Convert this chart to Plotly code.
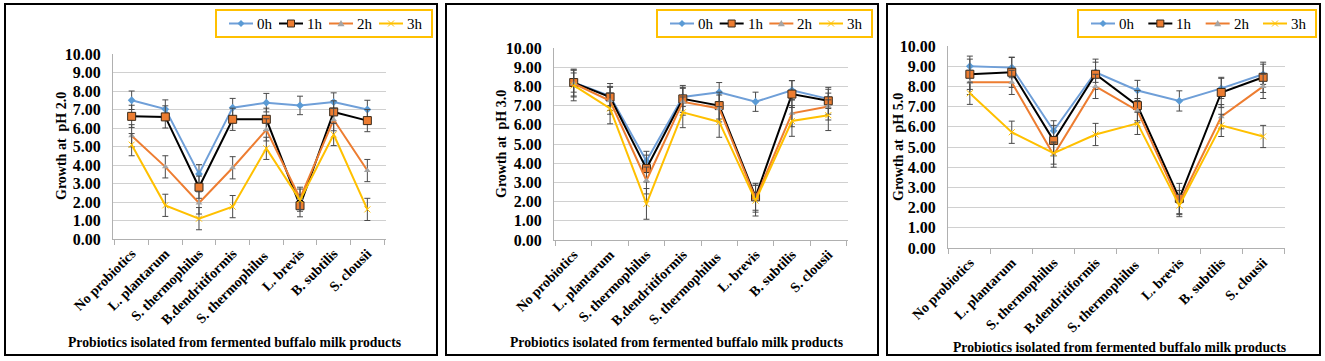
import plotly.graph_objects as go

categories = ["No probiotics", "L. plantarum", "S. thermophilus", "B.dendritiformis",
              "S. thermophilus ", "L. brevis", "B. subtilis", "S. clousii"]
series_names = ["0h", "1h", "2h", "3h"]

# pH 2.0
ph2_0h = [7.50, 7.02, 3.52, 7.10, 7.37, 7.22, 7.40, 7.00]
ph2_1h = [6.63, 6.60, 2.80, 6.47, 6.47, 1.80, 6.87, 6.40]
ph2_2h = [5.58, 3.90, 1.95, 3.85, 5.90, 2.20, 6.45, 3.70]
ph2_3h = [5.10, 1.82, 1.10, 1.75, 4.90, 2.10, 5.65, 1.60]
ph2_err = [0.5, 0.6, 0.6, 0.6]

# pH 3.0
ph3_0h = [8.20, 7.50, 4.12, 7.45, 7.70, 7.20, 7.80, 7.35]
ph3_1h = [8.20, 7.45, 3.72, 7.35, 7.00, 2.25, 7.60, 7.25]
ph3_2h = [8.15, 7.25, 3.10, 7.20, 6.85, 2.15, 6.60, 6.95]
ph3_3h = [8.05, 6.85, 1.88, 6.65, 6.15, 2.05, 6.20, 6.50]
ph3_err = [0.5, 0.7, 0.7, 0.8]

# pH 5.0
ph5_0h = [9.00, 8.93, 5.80, 8.70, 7.80, 7.28, 7.90, 8.60]
ph5_1h = [8.60, 8.70, 5.32, 8.60, 7.05, 2.45, 7.70, 8.45]
ph5_2h = [8.20, 8.20, 4.60, 8.00, 6.80, 2.25, 6.50, 8.00]
ph5_3h = [7.66, 5.73, 4.70, 5.62, 6.17, 2.10, 6.07, 5.52]
ph5_err = [0.5, 0.75, 0.6, 0.55]

y_titles = ["Growth at  pH 2.0", "Growth at  pH 3.0", "Growth at  pH 5.0"]
x_title = "Probiotics isolated from fermented buffalo milk products"

W, H = 1325, 361
FONT = "Liberation Serif"

line_colors = ["#6F9FD8", "#000000", "#ED7D31", "#FFC000"]
marker_colors = ["#5B9BD5", "#ED7D31", "#A5A5A5", "#FFC000"]
marker_styles = [
    dict(symbol="diamond", size=6, color=marker_colors[0]),
    dict(symbol="square", size=8, color=marker_colors[1], line=dict(color="#3a2a1a", width=1)),
    dict(symbol="triangle-up", size=6, color=marker_colors[2]),
    dict(symbol="x-thin", size=6, color=marker_colors[3], line=dict(color=marker_colors[3], width=1)),
]

panels = [
    dict(data=[ph2_0h, ph2_1h, ph2_2h, ph2_3h], err=ph2_err,
         px=(113, 386), py=(54, 239), border=(5, 437), legend=(216, 432),
         ytx=(61, 146), xtx=(235, 342)),
    dict(data=[ph3_0h, ph3_1h, ph3_2h, ph3_3h], err=ph3_err,
         px=(554, 848), py=(48, 240), border=(446, 878), legend=(657, 872),
         ytx=(501, 144), xtx=(676, 342)),
    dict(data=[ph5_0h, ph5_1h, ph5_2h, ph5_3h], err=ph5_err,
         px=(948, 1285), py=(46, 248), border=(887, 1320), legend=(1078, 1316),
         ytx=(898, 147), xtx=(1119, 347)),
]


def fx(px):
    return px / W


def fy(py):
    return 1 - py / H


def legend_box(x0, x1, shapes, annotations):
    """Legend drawn as layout decoration: gold box, line samples, symbols, labels."""
    top, bot = 10, 37
    yc = (top + bot) / 2
    shapes.append(dict(type="rect", xref="paper", yref="paper", x0=fx(x0), x1=fx(x1),
                       y0=fy(bot), y1=fy(top), line=dict(color="#FFC000", width=2),
                       fillcolor="white", layer="above"))
    seg, gap, tw = 24, 2, 14
    pitch = ((x1 - x0) - 26 - seg - gap - tw) / 3
    for k in range(4):
        lx = x0 + 13 + k * pitch
        mx = lx + seg / 2
        shapes.append(dict(type="line", xref="paper", yref="paper", x0=fx(lx), x1=fx(lx + seg),
                           y0=fy(yc), y1=fy(yc), line=dict(color=line_colors[k], width=2),
                           layer="above"))
        s = 3.5
        if k == 0:
            path = f"M{fx(mx)},{fy(yc - s)} L{fx(mx + s)},{fy(yc)} L{fx(mx)},{fy(yc + s)} L{fx(mx - s)},{fy(yc)} Z"
            shapes.append(dict(type="path", xref="paper", yref="paper", path=path,
                               fillcolor=marker_colors[0], line=dict(width=0), layer="above"))
        elif k == 1:
            shapes.append(dict(type="rect", xref="paper", yref="paper",
                               x0=fx(mx - s), x1=fx(mx + s), y0=fy(yc + s), y1=fy(yc - s),
                               fillcolor=marker_colors[1], line=dict(color="#3a2a1a", width=1),
                               layer="above"))
        elif k == 2:
            path = f"M{fx(mx)},{fy(yc - s)} L{fx(mx + s)},{fy(yc + s * 0.8)} L{fx(mx - s)},{fy(yc + s * 0.8)} Z"
            shapes.append(dict(type="path", xref="paper", yref="paper", path=path,
                               fillcolor=marker_colors[2], line=dict(width=0), layer="above"))
        else:
            for d in (1, -1):
                shapes.append(dict(type="line", xref="paper", yref="paper",
                                   x0=fx(mx - 3), x1=fx(mx + 3), y0=fy(yc - 3 * d), y1=fy(yc + 3 * d),
                                   line=dict(color=marker_colors[3], width=1), layer="above"))
        annotations.append(dict(text=series_names[k], xref="paper", yref="paper",
                                x=fx(lx + seg + gap), y=fy(yc + 0.5), xanchor="left", yanchor="middle",
                                showarrow=False,
                                font=dict(family=FONT, size=15, color="#000")))


fig = go.Figure()
shapes = []
annotations = []
layout = {}

for i, p in enumerate(panels):
    n = "" if i == 0 else str(i + 1)
    for k in range(4):
        fig.add_trace(go.Scatter(
            x=categories, y=p["data"][k], name=series_names[k], mode="lines+markers",
            line=dict(color=line_colors[k], width=2),
            marker=marker_styles[k],
            error_y=dict(type="constant", value=p["err"][k], color="#4a4a4a",
                         thickness=1, width=3),
            xaxis="x" + n, yaxis="y" + n, showlegend=False,
        ))
    layout["xaxis" + n] = dict(
        domain=[fx(p["px"][0]), fx(p["px"][1])], anchor="y" + n, type="category",
        automargin=False,
        showline=True, linecolor="#b0b0b0", linewidth=1, ticks="outside",
        tickson="boundaries", ticklen=5, tickcolor="#b0b0b0", tickangle=-45,
        showgrid=False, tickfont=dict(family=FONT, size=14, color="#000", weight="bold"),
    )
    layout["yaxis" + n] = dict(
        domain=[fy(p["py"][1]), fy(p["py"][0])], anchor="x" + n,
        automargin=False,
        range=[0, 10], dtick=1, tickformat=".2f", gridcolor="#d0d0d0",
        showline=True, linecolor="#b0b0b0", zeroline=False, ticks="",
        ticklabelstandoff=8,
        tickfont=dict(family=FONT, size=16, color="#000", weight="bold"),
    )
    shapes.append(dict(type="rect", xref="paper", yref="paper",
                       x0=fx(p["border"][0]), x1=fx(p["border"][1]),
                       y0=fy(355), y1=fy(4),
                       line=dict(color="#000", width=2)))
    legend_box(p["legend"][0], p["legend"][1], shapes, annotations)
    annotations.append(dict(text=y_titles[i], xref="paper", yref="paper",
                            x=fx(p["ytx"][0]), y=fy(p["ytx"][1]), textangle=-90,
                            showarrow=False, xanchor="center", yanchor="middle",
                            font=dict(family=FONT, size=14, color="#000", weight="bold")))
    annotations.append(dict(text=x_title, xref="paper", yref="paper",
                            x=fx(p["xtx"][0]), y=fy(p["xtx"][1]),
                            showarrow=False, xanchor="center", yanchor="middle",
                            font=dict(family=FONT, size=13.7, color="#000", weight="bold")))

fig.update_layout(
    width=W, height=H, margin=dict(l=0, r=0, t=0, b=0, autoexpand=False),
    paper_bgcolor="white", plot_bgcolor="white", showlegend=False,
    shapes=shapes, annotations=annotations, **layout,
)

fig.write_html("out.html", config={"displayModeBar": False},
               post_script="document.body.style.margin='0';document.body.style.overflow='hidden';")
